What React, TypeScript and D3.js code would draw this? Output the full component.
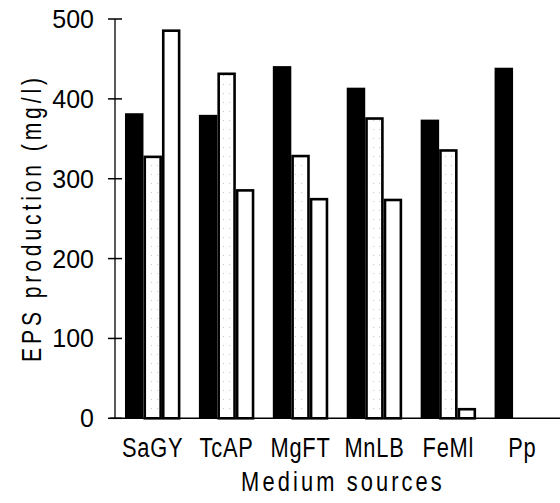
import { select, scaleBand, scaleLinear } from "d3";
import React, { useRef, useEffect } from "react";

// medium sources (x categories)
const categories = ["SaGY", "TcAP", "MgFT", "MnLB", "FeMl", "Pp"];
// three series (mg/l), null = no bar
const seriesDark = [382, 380, 441, 414, 374, 439];
const seriesDotted = [329, 433, 330, 377, 337, null];
const seriesOpen = [487, 287, 276, 275, 13, null];
const seriesKeys = ["dark", "dotted", "open"];
const yTicks = [0, 100, 200, 300, 400, 500];

const W = 560;
const H = 503;
const font = "'Liberation Sans', Arial, sans-serif";
// the scanned lettering is tall and narrow, squeeze it sideways
const squeeze = 0.78;

export default function App() {
  const ref = useRef<SVGSVGElement>(null);

  useEffect(() => {
    const svg = select(ref.current);
    svg.selectAll("*").remove();

    const x = scaleBand<string>()
      .domain(categories)
      .range([115, 560])
      .paddingInner(0.25)
      .paddingOuter(0.135);
    const xs = scaleBand<string>().domain(seriesKeys).range([0, x.bandwidth()]);
    const y = scaleLinear().domain([0, 500]).range([418.3, 19]);

    // very light dotted fill of the middle series
    const defs = svg.append("defs");
    const pat = defs
      .append("pattern")
      .attr("id", "dots")
      .attr("patternUnits", "userSpaceOnUse")
      .attr("width", 6)
      .attr("height", 9);
    pat.append("rect").attr("width", 6).attr("height", 9).attr("fill", "#fff");
    pat.append("rect").attr("x", 1).attr("y", 3).attr("width", 1).attr("height", 1).attr("fill", "#c8c8c8");

    const rows = categories.map((c, i) => ({
      cat: c,
      vals: [seriesDark[i], seriesDotted[i], seriesOpen[i]],
    }));

    const g = svg.append("g");
    rows.forEach((r) => {
      r.vals.forEach((v, k) => {
        if (v == null) return;
        const key = seriesKeys[k];
        const x0 = (x(r.cat) as number) + (xs(key) as number);
        const bw = xs.bandwidth();
        if (key === "dark") {
          g.append("rect")
            .attr("x", x0)
            .attr("y", y(v))
            .attr("width", bw)
            .attr("height", y(0) - y(v))
            .attr("fill", "#000");
        } else {
          const sw = 2.6;
          g.append("rect")
            .attr("x", x0 + sw / 2)
            .attr("y", y(v) + sw / 2)
            .attr("width", bw - sw)
            .attr("height", Math.max(0, y(0) - y(v) - sw / 2))
            .attr("fill", key === "dotted" ? "url(#dots)" : "#fff")
            .attr("stroke", "#000")
            .attr("stroke-width", sw);
        }
      });
    });

    // axes
    svg.append("line")
      .attr("x1", 115).attr("x2", 115)
      .attr("y1", y(500)).attr("y2", y(0))
      .attr("stroke", "#000").attr("stroke-width", 1.3);
    svg.append("line")
      .attr("x1", 110).attr("x2", W)
      .attr("y1", y(0)).attr("y2", y(0))
      .attr("stroke", "#000").attr("stroke-width", 1.5);

    const tk = svg.append("g");
    tk.selectAll("line")
      .data(yTicks)
      .join("line")
      .attr("x1", 108).attr("x2", 122)
      .attr("y1", (d) => y(d)).attr("y2", (d) => y(d))
      .attr("stroke", "#000").attr("stroke-width", 1.5);
    tk.selectAll("text")
      .data(yTicks)
      .join("text")
      .attr("x", 94)
      .attr("y", (d) => y(d) + 9)
      .attr("text-anchor", "end")
      .attr("font-family", font)
      .attr("font-size", 25)
      .text((d) => d);

    // category labels
    svg.append("g")
      .selectAll("text")
      .data(categories)
      .join("text")
      .attr("transform", (d) =>
        `translate(${(x(d) as number) + x.bandwidth() / 2},456.5) scale(${squeeze},1)`
      )
      .attr("text-anchor", "middle")
      .attr("font-family", font)
      .attr("font-size", 28)
      .attr("letter-spacing", 1)
      .text((d) => d);

    svg.append("text")
      .attr("transform", `translate(343,491) scale(${squeeze},1)`)
      .attr("text-anchor", "middle")
      .attr("font-family", font)
      .attr("font-size", 28)
      .attr("letter-spacing", 4)
      .text("Medium sources");

    svg.append("text")
      .attr("transform", `translate(41,218) rotate(-90) scale(${squeeze},1)`)
      .attr("text-anchor", "middle")
      .attr("font-family", font)
      .attr("font-size", 27)
      .attr("letter-spacing", 5)
      .text("EPS production (mg/l)");
  }, []);

  return (
    <svg
      ref={ref}
      width={W}
      height={H}
      style={{ position: "absolute", left: 0, top: 0, background: "#fff" }}
    />
  );
}
